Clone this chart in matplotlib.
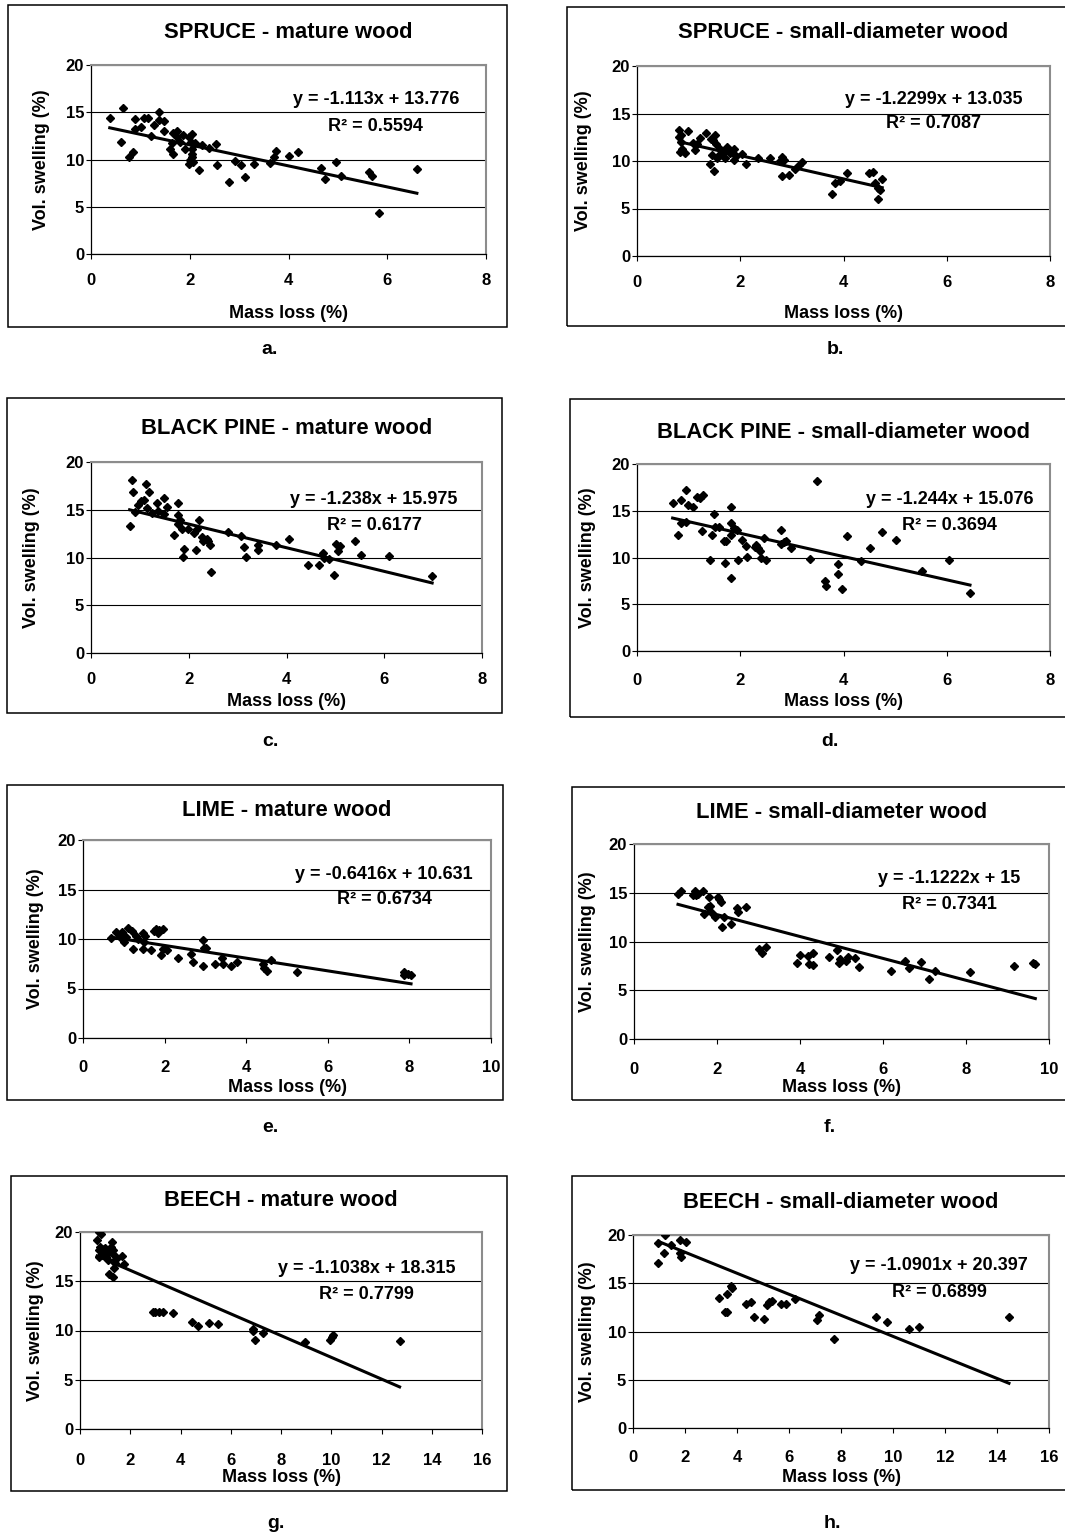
import numpy as np
import matplotlib
matplotlib.use('Agg')
import matplotlib.pyplot as plt
from matplotlib.patches import Rectangle

plt.rcParams['font.family'] = ['Liberation Sans', 'DejaVu Sans']
plt.rcParams['font.weight'] = 'bold'

W, H = 1065, 1533

# ---- data ----
spruce_mature_x = [0.38, 0.65, 0.61, 0.76, 0.85, 0.90, 0.90, 1.01, 1.07, 1.15, 1.21, 1.27, 1.37, 1.37, 1.48,
                   1.47, 1.61, 1.64, 1.67, 1.67, 1.74, 1.74, 1.81, 1.86, 1.91, 1.98, 1.98, 2.04, 2.03, 2.04,
                   2.04, 2.04, 2.06, 2.00, 2.11, 2.18, 2.25, 2.38, 2.54, 2.56, 2.79, 2.91, 3.04, 3.12, 3.31,
                   3.62, 3.71, 3.74, 4.01, 4.20, 4.65, 4.74, 4.96, 5.06, 5.64, 5.69, 5.83, 6.60]
spruce_mature_y = [14.4, 15.5, 11.8, 10.3, 10.8, 14.3, 13.25, 13.4, 14.4, 14.4, 12.5, 13.7, 15.0, 14.2, 14.1,
                   13.0, 11.1, 11.7, 10.6, 12.8, 13.0, 12.4, 11.85, 12.55, 11.1, 12.4, 9.5, 12.7, 11.85, 11.1,
                   10.6, 10.25, 9.7, 9.9, 11.7, 8.9, 11.5, 11.25, 11.6, 9.4, 7.6, 9.8, 9.4, 8.1, 9.55,
                   9.67, 10.26, 10.86, 10.37, 10.8, 9.14, 7.98, 9.74, 8.26, 8.68, 8.26, 4.29, 9.03]

spruce_small_x = [0.82, 0.85, 0.82, 0.86, 0.99, 0.83, 0.88, 0.93, 1.08, 1.12, 1.16, 1.22, 1.33, 1.43, 1.51,
                  1.48, 1.53, 1.41, 1.45, 1.50, 1.54, 1.58, 1.61, 1.68, 1.71, 1.74, 1.78, 1.81, 1.87, 1.87,
                  1.91, 2.04, 2.12, 2.34, 2.57, 2.80, 2.77, 2.85, 2.81, 2.94, 3.06, 3.13, 3.19, 3.78, 3.83,
                  3.93, 4.07, 4.50, 4.58, 4.61, 4.66, 4.71, 4.75, 4.66]
spruce_small_y = [13.3, 12.7, 12.5, 12.0, 13.2, 11.0, 11.3, 10.8, 11.9, 11.2, 11.8, 12.4, 13.0, 12.3, 12.75,
                  12.2, 11.8, 9.7, 10.6, 9.0, 10.3, 10.6, 11.3, 11.0, 10.3, 11.5, 11.1, 10.8, 11.3, 10.1,
                  10.5, 10.7, 9.7, 10.3, 10.3, 10.4, 10.0, 10.1, 8.4, 8.5, 9.2, 9.55, 9.9, 6.5, 7.7,
                  7.9, 8.75, 8.7, 8.85, 7.7, 7.2, 7.0, 8.1, 6.0]

pine_mature_x = [0.84, 0.79, 0.86, 0.91, 0.97, 1.02, 1.08, 1.12, 1.18, 1.14, 1.25, 1.35, 1.38, 1.50, 1.55,
                 1.50, 1.69, 1.78, 1.78, 1.79, 1.82, 1.86, 1.88, 1.91, 1.99, 2.10, 2.14, 2.16, 2.20, 2.28,
                 2.30, 2.37, 2.40, 2.44, 2.45, 2.80, 3.06, 3.13, 3.17, 3.42, 3.42, 3.78, 4.06, 4.45, 4.67,
                 4.75, 4.77, 4.87, 4.98, 5.01, 5.06, 5.09, 5.40, 5.52, 6.10, 6.98]
pine_mature_y = [18.1, 13.3, 16.9, 14.8, 15.5, 15.9, 16.0, 17.7, 16.9, 15.2, 14.7, 15.7, 14.9, 16.2, 15.3,
                 14.6, 12.4, 15.7, 14.4, 13.5, 13.9, 13.0, 10.05, 10.9, 12.95, 12.6, 10.75, 13.0, 13.9, 12.15,
                 11.7, 11.9, 11.7, 11.35, 8.5, 12.7, 12.2, 11.1, 10.05, 11.3, 10.8, 11.3, 11.9, 9.2, 9.2,
                 10.5, 10.0, 9.8, 8.2, 11.45, 10.7, 11.25, 11.7, 10.3, 10.15, 8.06]

pine_small_x = [0.69, 0.79, 0.86, 0.85, 0.94, 0.94, 0.99, 1.09, 1.17, 1.22, 1.27, 1.26, 1.41, 1.45, 1.49,
                1.51, 1.59, 1.69, 1.72, 1.70, 1.83, 1.83, 1.83, 1.83, 1.88, 1.93, 1.95, 2.04, 2.12, 2.14,
                2.28, 2.31, 2.35, 2.38, 2.40, 2.46, 2.50, 2.78, 2.79, 2.84, 2.88, 2.98, 3.36, 3.49, 3.64,
                3.66, 3.90, 3.90, 3.97, 4.07, 4.33, 4.52, 4.74, 5.01, 5.52, 6.05, 6.45]
pine_small_y = [15.8, 12.4, 16.1, 13.7, 17.25, 13.75, 15.6, 15.35, 16.5, 16.4, 16.7, 12.85, 9.75, 12.4, 14.6,
                13.3, 13.3, 11.8, 11.8, 9.4, 15.4, 13.7, 12.4, 7.8, 13.2, 12.95, 9.75, 11.9, 11.25, 10.1,
                11.1, 11.35, 11.0, 10.7, 10.0, 12.05, 9.7, 12.95, 11.4, 11.7, 11.8, 11.0, 9.8, 18.15, 7.5,
                6.9, 9.3, 8.2, 6.65, 12.25, 9.6, 11.0, 12.7, 11.9, 8.6, 9.7, 6.25]

lime_mature_x = [0.69, 0.81, 0.90, 0.95, 1.00, 1.06, 1.10, 1.20, 1.22, 1.30, 1.34, 1.47, 1.51, 1.49, 1.47,
                 1.67, 1.74, 1.79, 1.83, 1.87, 1.96, 1.92, 1.96, 2.06, 2.32, 2.65, 2.69, 2.93, 2.96, 3.01,
                 2.95, 3.24, 3.41, 3.42, 3.63, 3.77, 4.40, 4.44, 4.50, 4.62, 5.25, 7.86, 7.86, 7.96, 8.04]
lime_mature_y = [10.07, 10.7, 10.2, 10.7, 9.7, 10.2, 11.15, 10.8, 9.0, 10.3, 10.0, 10.6, 10.3, 9.7, 8.95,
                 8.9, 10.85, 11.0, 10.65, 10.9, 11.0, 8.4, 8.95, 8.9, 8.1, 8.45, 7.7, 9.9, 9.05, 9.1,
                 7.3, 7.43, 8.1, 7.43, 7.26, 7.64, 7.43, 7.1, 6.76, 7.87, 6.7, 6.7, 6.35, 6.5, 6.4]

lime_small_x = [1.06, 1.13, 1.42, 1.46, 1.50, 1.54, 1.66, 1.68, 1.79, 1.81, 1.83, 1.87, 1.94, 2.02, 2.05,
                2.09, 2.12, 2.16, 2.34, 2.49, 2.50, 2.69, 3.01, 3.09, 3.19, 3.93, 3.99, 4.19, 4.22, 4.31,
                4.31, 4.69, 4.88, 4.93, 4.96, 5.10, 5.16, 5.33, 5.41, 6.19, 6.52, 6.63, 6.91, 7.12, 7.25,
                8.09, 9.16, 9.61, 9.67]
lime_small_y = [14.9, 15.2, 14.75, 15.2, 14.75, 14.9, 15.2, 12.8, 13.5, 14.6, 13.6, 12.95, 12.5, 14.6, 14.4,
                14.1, 11.5, 12.5, 11.8, 13.4, 13.05, 13.55, 9.25, 8.83, 9.45, 7.8, 8.6, 8.55, 7.7, 8.83,
                7.63, 8.38, 9.1, 7.8, 8.25, 8.04, 8.38, 8.3, 7.35, 6.94, 8.04, 7.29, 7.87, 6.19, 7.0,
                6.87, 7.53, 7.8, 7.7]

beech_mature_x = [0.68, 0.77, 0.84, 0.74, 0.80, 0.77, 0.88, 0.94, 1.01, 1.04, 1.10, 1.17, 1.24, 1.26, 1.30,
                  1.37, 1.17, 1.30, 1.37, 1.41, 1.43, 1.67, 1.74, 2.90, 3.00, 3.13, 3.29, 3.69, 4.46, 4.71,
                  5.15, 5.48, 6.88, 6.88, 6.98, 7.28, 8.94, 9.97, 10.04, 10.07, 12.72]
beech_mature_y = [19.2, 20.0, 19.8, 18.2, 18.5, 17.5, 18.3, 17.9, 18.4, 17.5, 17.2, 18.0, 18.5, 19.0, 18.2,
                  17.7, 15.7, 15.4, 16.3, 16.9, 17.3, 17.6, 16.75, 11.9, 11.9, 11.9, 11.9, 11.8, 10.86, 10.5,
                  10.75, 10.7, 10.2, 9.9, 9.0, 9.7, 8.8, 9.07, 9.34, 9.5, 8.9]

beech_small_x = [0.98, 0.98, 1.18, 1.24, 1.48, 1.81, 1.79, 1.83, 2.03, 3.31, 3.53, 3.60, 3.60, 3.76, 3.80,
                 4.36, 4.52, 4.65, 5.04, 5.14, 5.24, 5.33, 5.69, 5.89, 6.24, 7.07, 7.17, 7.72, 9.36, 9.75,
                 10.60, 10.99, 14.46]
beech_small_y = [19.2, 17.1, 18.1, 20.0, 19.0, 19.5, 18.1, 17.7, 19.25, 13.5, 12.0, 12.07, 13.9, 14.7, 14.5,
                 12.9, 13.1, 11.55, 11.28, 12.76, 13.03, 13.2, 12.86, 12.83, 13.38, 11.14, 11.66, 9.24, 11.55, 10.97,
                 10.28, 10.45, 11.48]

titles = ['SPRUCE - mature wood', 'SPRUCE - small-diameter wood',
          'BLACK PINE - mature wood', 'BLACK PINE - small-diameter wood',
          'LIME - mature wood', 'LIME - small-diameter wood',
          'BEECH - mature wood', 'BEECH - small-diameter wood']
slopes = [-1.113, -1.2299, -1.238, -1.244, -0.6416, -1.1222, -1.1038, -1.0901]
intercepts = [13.776, 13.035, 15.975, 15.076, 10.631, 15.0, 18.315, 20.397]
equations = ['y = -1.113x + 13.776', 'y = -1.2299x + 13.035', 'y = -1.238x + 15.975', 'y = -1.244x + 15.076',
             'y = -0.6416x + 10.631', 'y = -1.1222x + 15', 'y = -1.1038x + 18.315', 'y = -1.0901x + 20.397']
r2_labels = ['R² = 0.5594', 'R² = 0.7087', 'R² = 0.6177', 'R² = 0.3694',
             'R² = 0.6734', 'R² = 0.7341', 'R² = 0.7799', 'R² = 0.6899']
x_max = [8, 8, 8, 8, 10, 10, 16, 16]
sub_labels = ['a.', 'b.', 'c.', 'd.', 'e.', 'f.', 'g.', 'h.']
xs = [spruce_mature_x, spruce_small_x, pine_mature_x, pine_small_x,
      lime_mature_x, lime_small_x, beech_mature_x, beech_small_x]
ys = [spruce_mature_y, spruce_small_y, pine_mature_y, pine_small_y,
      lime_mature_y, lime_small_y, beech_mature_y, beech_small_y]

# ---- layout in pixels (left, top, right, bottom) ----
plot_px = [(91, 65, 486, 254), (637, 66, 1050, 256),
           (91, 462, 482, 653), (637, 464, 1050, 651),
           (83, 840, 491, 1038), (634, 844, 1049, 1039),
           (80, 1232, 482, 1429), (633, 1235, 1049, 1428)]
box_px = [(8, 5, 507, 327), (567, 7, 1075, 326),
          (7, 398, 502, 713), (570, 399, 1075, 717),
          (7, 785, 503, 1100), (572, 787, 1075, 1100),
          (11, 1176, 507, 1491), (572, 1176, 1075, 1490)]
title_y = [32, 32, 428, 433, 811, 812, 1201, 1202]
eq_pos = [(5.77, 16.3, 13.5), (5.74, 16.5, 13.9), (5.79, 16.1, 13.4), (6.06, 16.25, 13.4),
          (7.38, 16.55, 13.95), (7.6, 16.46, 13.8), (11.41, 16.28, 13.64), (11.77, 16.8, 14.03)]
ylab_off = [49, 53, 60, 50, 47, 46, 45, 46]
xlab_off = [59, 57, 48, 51, 49, 48, 49, 49]
xtick_pad = [10.5, 10.5, 10.5, 12, 12.5, 13, 13.5, 12.5]
sub_pos = [(270, 350), (835, 350), (270, 742), (830, 742),
           (270, 1128), (830, 1128), (276, 1524), (832, 1524)]

fig = plt.figure(figsize=(W / 100, H / 100), dpi=100)

for i in range(8):
    l, t, r, b = plot_px[i]
    ax = fig.add_axes([l / W, 1 - b / H, (r - l) / W, (b - t) / H])

    bl, bt, br, bb = box_px[i]
    fig.add_artist(Rectangle((bl / W, 1 - bb / H), (br - bl) / W, (bb - bt) / H,
                             transform=fig.transFigure, fill=False, ec='black', lw=1.1))

    x = np.array(xs[i])
    y = np.array(ys[i])
    ax.plot(x, y, ls='none', marker='D', ms=3.8, color='black', zorder=3)
    xl = np.array([x.min(), x.max()])
    ax.plot(xl, slopes[i] * xl + intercepts[i], color='black', lw=2.2, zorder=4)

    ax.set_xlim(0, x_max[i])
    ax.set_ylim(0, 20)
    ax.set_xticks(np.arange(0, x_max[i] + 1, 2))
    ax.set_yticks([0, 5, 10, 15, 20])
    ax.set_axisbelow(True)
    ax.grid(axis='y', color='black', lw=0.8)
    ax.tick_params(direction='out', length=3.5, width=0.8, labelsize=12, top=False, right=False)
    ax.tick_params(axis='y', pad=1.5)
    ax.tick_params(axis='x', pad=xtick_pad[i])
    for side in ['left', 'bottom']:
        ax.spines[side].set_color('black')
        ax.spines[side].set_linewidth(0.9)
    for side in ['top', 'right']:
        ax.spines[side].set_color('#8c8c8c')
        ax.spines[side].set_linewidth(1.5)

    ax.set_xlabel('Mass loss (%)', fontsize=13, fontweight='bold', va='center')
    ax.xaxis.set_label_coords(0.5, -xlab_off[i] / (b - t))
    ax.set_ylabel('Vol. swelling (%)', fontsize=13, fontweight='bold', va='center')
    ax.yaxis.set_label_coords(-ylab_off[i] / (r - l), 0.5)

    ex, ey1, ey2 = eq_pos[i]
    ax.text(ex, ey1, equations[i], ha='center', va='center', fontsize=13, fontweight='bold')
    ax.text(ex, ey2, r2_labels[i], ha='center', va='center', fontsize=13, fontweight='bold')

    fig.text((l + r) / 2 / W, 1 - title_y[i] / H, titles[i], ha='center', va='center',
             fontsize=15.8, fontweight='bold')
    sx, sy = sub_pos[i]
    fig.text(sx / W, 1 - sy / H, sub_labels[i], ha='center', va='center', fontsize=14, fontweight='bold')

fig.savefig('out.png', dpi=100)
